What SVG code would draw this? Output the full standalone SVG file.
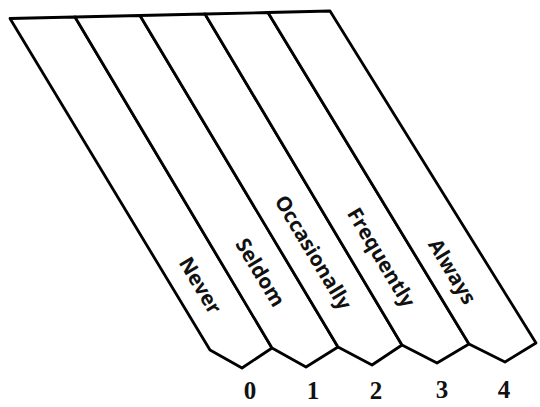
<svg xmlns="http://www.w3.org/2000/svg" width="540" height="407" viewBox="0 0 540 407">
<style>
.strip{fill:#fff;stroke:#000;stroke-width:2.8;stroke-linejoin:round}
.lbl{font-family:"Open Sans","DejaVu Sans",sans-serif;font-weight:700;font-size:20.5px;fill:#111;text-anchor:middle;dominant-baseline:central}
.num{font-family:"Liberation Serif","DejaVu Serif",serif;font-weight:700;font-size:25px;fill:#111;text-anchor:middle}
</style>
<rect width="540" height="407" fill="#fff"/>
<g id="never">
<polygon class="strip" points="10,18.5 210,350 242,368 272,348 75,17"/>
<text class="lbl" transform="translate(201,285) rotate(59)">Never</text>
<text class="num" x="250" y="399">0</text>
</g>
<g id="seldom">
<polygon class="strip" points="75,17 272,348 306,367 338,347 140,15.5"/>
<text class="lbl" transform="translate(261,272) rotate(59)">Seldom</text>
<text class="num" x="313" y="399">1</text>
</g>
<g id="occasionally">
<polygon class="strip" points="140,15.5 338,347 372,365 402,345 205,14"/>
<text class="lbl" transform="translate(314,252) rotate(59)">Occasionally</text>
<text class="num" x="376" y="399">2</text>
</g>
<g id="frequently">
<polygon class="strip" points="205,14 402,345 437,363 469,344 268,12.5"/>
<text class="lbl" transform="translate(382,257) rotate(59)">Frequently</text>
<text class="num" x="442" y="398">3</text>
</g>
<g id="always">
<polygon class="strip" points="268,12.5 469,344 505,362 536,343 330,11"/>
<text class="lbl" transform="translate(453,271) rotate(59)">Always</text>
<text class="num" x="504" y="398">4</text>
</g>
<g id="connectors"></g>
</svg>
